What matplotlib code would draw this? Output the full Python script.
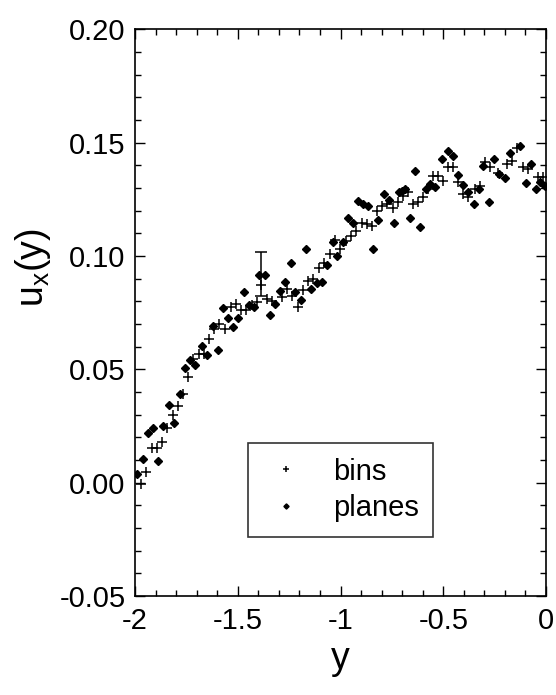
import numpy as np
import matplotlib
matplotlib.use('Agg')
import matplotlib.pyplot as plt
from matplotlib.ticker import MultipleLocator, FormatStrFormatter, FuncFormatter

# bins: crosses
bins_x = [-1.971, -1.946, -1.919, -1.894, -1.870, -1.846, -1.817, -1.789, -1.768, -1.741,
          -1.716, -1.689, -1.664, -1.638, -1.614, -1.590, -1.562, -1.534, -1.510, -1.486,
          -1.460, -1.432, -1.408, -1.385, -1.359, -1.335, -1.286, -1.262, -1.237, -1.208,
          -1.184, -1.157, -1.132, -1.105, -1.080, -1.051, -1.027, -1.002, -0.975, -0.949,
          -0.925, -0.897, -0.873, -0.848, -0.824, -0.800, -0.775, -0.746, -0.722, -0.694,
          -0.670, -0.645, -0.621, -0.597, -0.573, -0.548, -0.524, -0.500, -0.475, -0.451,
          -0.427, -0.403, -0.378, -0.345, -0.321, -0.297, -0.273, -0.232, -0.191, -0.167,
          -0.143, -0.111, -0.086, -0.037, -0.013]
bins_y = [-0.0006, 0.0045, 0.0153, 0.0153, 0.0178, 0.0239, 0.0298, 0.0336, 0.0389, 0.0467,
          0.0545, 0.0567, 0.0567, 0.0634, 0.0678, 0.0700, 0.0678, 0.0773, 0.0788, 0.0763,
          0.0763, 0.0785, 0.0795, 0.0872, 0.0810, 0.0800, 0.0817, 0.0854, 0.0824, 0.0773,
          0.0850, 0.0888, 0.0898, 0.0945, 0.0967, 0.1008, 0.1070, 0.1030, 0.1064, 0.1086,
          0.1108, 0.1145, 0.1140, 0.1133, 0.1199, 0.1221, 0.1229, 0.1211, 0.1236, 0.1265,
          0.1280, 0.1229, 0.1236, 0.1258, 0.1295, 0.1354, 0.1354, 0.1329, 0.1390, 0.1390,
          0.1324, 0.1273, 0.1258, 0.1295, 0.1310, 0.1412, 0.1390, 0.1365, 0.1405, 0.1420,
          0.1478, 0.1390, 0.1383, 0.1346, 0.1346]

# planes: diamonds
planes_x = [-1.990, -1.964, -1.938, -1.914, -1.887, -1.862, -1.835, -1.810, -1.780, -1.757,
            -1.732, -1.708, -1.672, -1.648, -1.622, -1.596, -1.570, -1.546, -1.522, -1.497,
            -1.470, -1.444, -1.421, -1.395, -1.367, -1.343, -1.319, -1.294, -1.270, -1.242,
            -1.221, -1.194, -1.168, -1.144, -1.116, -1.092, -1.067, -1.038, -1.016, -0.990,
            -0.965, -0.941, -0.913, -0.890, -0.866, -0.840, -0.816, -0.788, -0.763, -0.740,
            -0.715, -0.702, -0.686, -0.662, -0.637, -0.613, -0.585, -0.564, -0.540, -0.505,
            -0.478, -0.454, -0.430, -0.405, -0.378, -0.350, -0.324, -0.305, -0.277, -0.252,
            -0.227, -0.200, -0.175, -0.127, -0.099, -0.073, -0.050, -0.029, -0.005]
planes_y = [0.0038, 0.0104, 0.0219, 0.0241, 0.0097, 0.0251, 0.0343, 0.0265, 0.0389, 0.0504,
            0.0542, 0.0519, 0.0601, 0.0563, 0.0692, 0.0586, 0.0770, 0.0724, 0.0685, 0.0724,
            0.0839, 0.0785, 0.0773, 0.0914, 0.0914, 0.0739, 0.0788, 0.0847, 0.0883, 0.0969,
            0.0839, 0.0807, 0.1029, 0.0854, 0.0879, 0.0886, 0.0961, 0.1060, 0.0998, 0.1060,
            0.1167, 0.1145, 0.1243, 0.1230, 0.1220, 0.1029, 0.1160, 0.1273, 0.1248, 0.1143,
            0.1280, 0.1287, 0.1295, 0.1165, 0.1373, 0.1129, 0.1295, 0.1317, 0.1302, 0.1427,
            0.1464, 0.1442, 0.1358, 0.1314, 0.1280, 0.1229, 0.1295, 0.1398, 0.1236, 0.1427,
            0.1361, 0.1343, 0.1456, 0.1486, 0.1320, 0.1405, 0.1295, 0.1324, 0.1310]

# single error bar
err_x = [-1.389]
err_y = [0.092]
err_dy = [0.0095]

plt.rcParams['font.family'] = ['Liberation Sans', 'DejaVu Sans']

fig = plt.figure(figsize=(5.56, 6.95), dpi=100)
ax = fig.add_axes([0.243, 0.1425, 0.739, 0.8155])

ax.plot(bins_x, bins_y, linestyle='none', marker='+', color='black',
        markersize=7, markeredgewidth=1.1, label='bins')
ax.plot(planes_x, planes_y, linestyle='none', marker='D', color='black',
        markersize=4.4, label='planes')
ax.errorbar(err_x, err_y, yerr=err_dy, fmt='none', ecolor='black',
            elinewidth=1.1, capsize=4, capthick=1.1)

ax.set_xlim(-2, 0)
ax.set_ylim(-0.05, 0.20)
ax.xaxis.set_major_locator(MultipleLocator(0.5))
ax.xaxis.set_minor_locator(MultipleLocator(0.1))
ax.yaxis.set_major_locator(MultipleLocator(0.05))
ax.yaxis.set_minor_locator(MultipleLocator(0.01))
ax.xaxis.set_major_formatter(FuncFormatter(lambda v, p: f"{v:g}"))
ax.yaxis.set_major_formatter(FormatStrFormatter('%.2f'))

ax.tick_params(which='both', direction='in', top=True, right=True, width=1.0)
ax.tick_params(which='major', length=7, labelsize=21)
ax.tick_params(axis='y', which='major', pad=7)
ax.tick_params(axis='x', which='major', pad=8)
ax.tick_params(which='minor', length=4)
for s in ax.spines.values():
    s.set_linewidth(1.2)

ax.set_xlabel('y', fontsize=27, labelpad=4)
ax.set_ylabel(r'u$_\mathregular{x}$(y)', fontsize=27, labelpad=4)
ax.yaxis.set_label_coords(-0.2, 0.58)

leg = ax.legend(loc='lower left', bbox_to_anchor=(0.275, 0.104), fontsize=21,
                frameon=True, fancybox=False, edgecolor='black', markerscale=0.6,
                handlelength=1.6, handletextpad=0.8, borderpad=0.5, labelspacing=0.3,
                borderaxespad=0)
leg.get_frame().set_linewidth(1.2)

fig.savefig('out.png', dpi=100)
